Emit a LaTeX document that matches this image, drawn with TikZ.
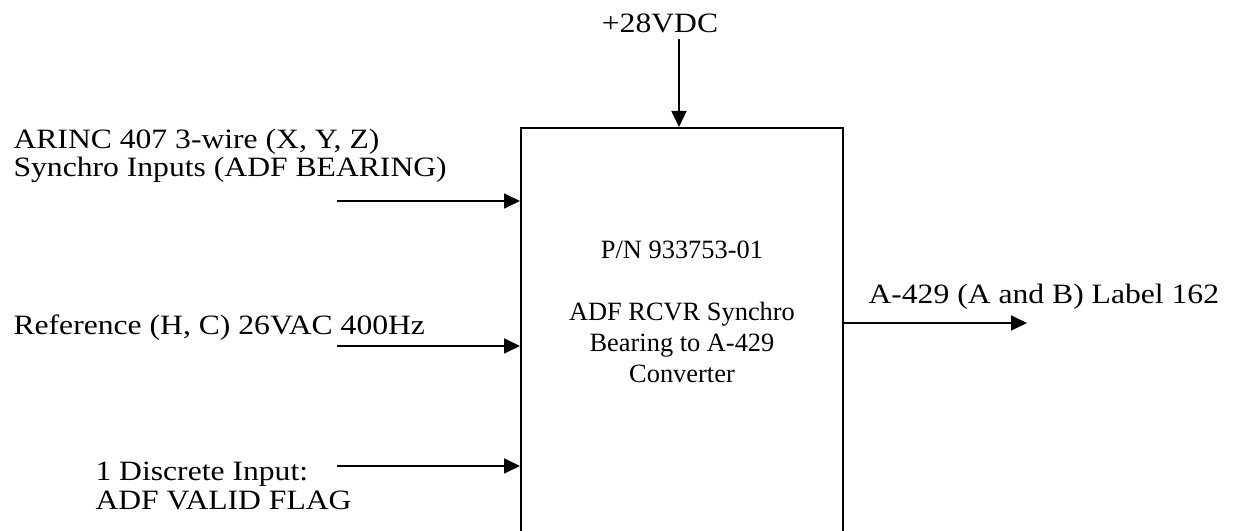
\documentclass[tikz,border=0pt]{standalone}
\usepackage{fontspec}
\setmainfont{Liberation Serif}
\newfontfamily\sigfont[FakeStretch=1.13]{Liberation Serif}
\usetikzlibrary{arrows.meta,positioning,calc}

\begin{document}
\begin{tikzpicture}[x=0.375pt, y=-0.375pt, >={Triangle[length=6pt,width=5.6pt]},
    sigline/.style={draw, ->, line width=0.75pt},
    sigtext/.style={font=\sigfont\fontsize{10.5}{10.8}\selectfont, inner sep=0pt, align=left},
    convbox/.style={draw, rectangle, line width=0.75pt, minimum width=120.75pt, minimum height=162pt, inner sep=0pt},
    convtext/.style={font=\fontsize{9.9}{11.6}\selectfont, inner sep=0pt, align=center}]
        \useasboundingbox (0,0) rectangle (1236,531);

        % Converter block
        \node [convbox] (conv) at (682,344) {};
        \node [convtext, anchor=base] (pn) at (682,382) {P/N 933753-01\\[11.6pt]ADF RCVR Synchro\\Bearing to A-429\\Converter};

        % Signal labels
        \node [sigtext, anchor=base] (vdc) at (660,33) {+28VDC};
        \node [sigtext, anchor=base west] (synchro) at (13,177) {ARINC 407 3-wire (X, Y, Z)\\Synchro Inputs (ADF BEARING)};
        \node [sigtext, anchor=base west] (ref) at (13,335) {Reference (H, C) 26VAC 400Hz};
        \node [sigtext, anchor=base west] (discrete) at (95,509) {1 Discrete Input:\\ADF VALID FLAG};
        \node [sigtext, anchor=base west] (label) at (868,303) {A-429 (A and B) Label 162};

        % Free ends
        \coordinate (vdcend) at (679,39);
        \coordinate (synend) at (337,201);
        \coordinate (refend) at (337,346);
        \coordinate (disend) at (337,466);
        \coordinate (outend) at (1027,323);

        % Paths
        \path [sigline] (vdcend) -- (vdcend |- conv.north);
        \path [sigline] (synend) -- (synend -| conv.west);
        \path [sigline] (refend) -- (refend -| conv.west);
        \path [sigline] (disend) -- (disend -| conv.west);
        \path [sigline] (outend -| conv.east) -- (outend);
\end{tikzpicture}
\end{document}
